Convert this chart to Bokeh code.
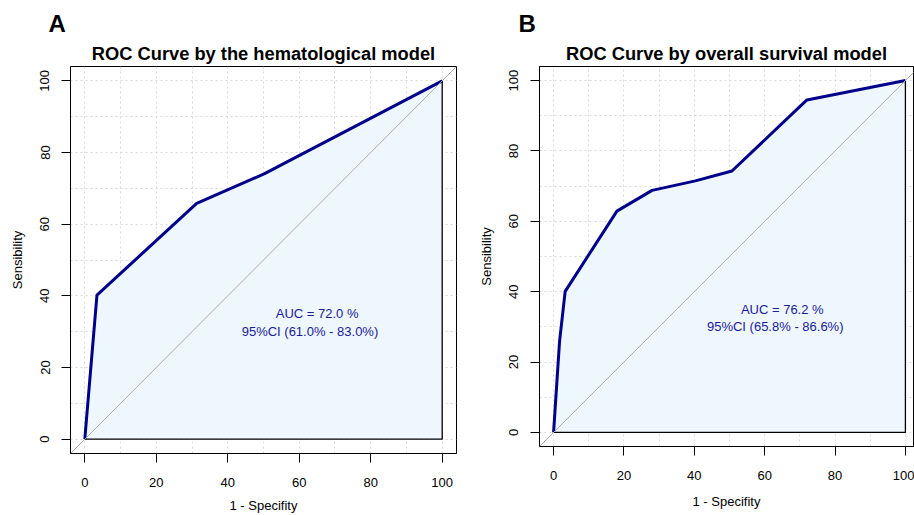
from bokeh.plotting import figure
from bokeh.models import Range1d, Slope, Title, FixedTicker
from bokeh.layouts import row, column
from bokeh.core.properties import value
from bokeh.embed import file_html
from bokeh.resources import INLINE

# ---- data ----
panel_letters = ["A", "B"]
titles = ["ROC Curve by the hematological model", "ROC Curve by overall survival model"]

# panel A: 1 - specificity (%) and sensitivity (%)
fpr_a = [0, 3.4, 31.3, 50.3, 100]
tpr_a = [0, 40.2, 65.8, 74.1, 100]
auc_text_a = ["AUC = 72.0 %", "95%CI (61.0% - 83.0%)"]

# panel B
fpr_b = [0, 1.7, 3.3, 18.0, 28.0, 40.3, 50.7, 72.0, 100]
tpr_b = [0, 25.9, 40.1, 62.9, 68.8, 71.5, 74.3, 94.5, 100]
auc_text_b = ["AUC = 76.2 %", "95%CI (65.8% - 86.6%)"]

auc_text_x = [65, 63]
auc_text_y = [35, 30]

axis_ticks = [0, 20, 40, 60, 80, 100]
grid_ticks = [0, 10, 20, 30, 40, 50, 60, 70, 80, 90, 100]

FONT = "Liberation Sans"
CURVE = "#00008B"
FILL = "#EEF6FE"


def make_panel(letter, title, fpr, tpr, auc_lines, width, height, mb_left, mb_right,
               mb_top, mb_bottom, x_end, letter_offset, x_lbl_standoff, x_axlbl_standoff):
    p = figure(width=width, height=height, output_backend="svg", toolbar_location=None,
               x_range=Range1d(-4, x_end), y_range=Range1d(-4, 104),
               min_border_left=mb_left, min_border_right=mb_right,
               min_border_top=mb_top, min_border_bottom=mb_bottom,
               background_fill_color="white", border_fill_color="white")
    p.title = None
    p.add_layout(Title(text=title, align="center", text_font=FONT, text_font_size="18.3px",
                       text_font_style="bold", text_color="black", standoff=4.5), "above")
    p.add_layout(Title(text=letter, align="left", offset=letter_offset, text_font=FONT,
                       text_font_size="24px", text_font_style="bold", text_color="black",
                       standoff=4), "above")

    p.outline_line_color = "black"
    p.outline_line_width = 1
    p.outline_line_alpha = 1

    for g in (p.xgrid, p.ygrid):
        g.ticker = FixedTicker(ticks=grid_ticks)
        g.grid_line_color = "#D9D9D9"
        g.grid_line_dash = "2 3"
        g.grid_line_width = 1

    for ax in (p.xaxis, p.yaxis):
        ax.ticker = FixedTicker(ticks=axis_ticks)
        ax.minor_tick_line_color = None
        ax.major_tick_in = 0
        ax.major_tick_out = 9
        ax.major_tick_line_color = "black"
        ax.axis_line_color = "black"
        ax.major_label_text_font = FONT
        ax.major_label_text_font_size = "13px"
        ax.major_label_text_color = "black"
        ax.axis_label_text_font = FONT
        ax.axis_label_text_font_size = "13px"
        ax.axis_label_text_font_style = "normal"
        ax.axis_label_text_color = "black"
    p.xaxis.major_label_standoff = x_lbl_standoff
    p.xaxis.axis_label_standoff = x_axlbl_standoff
    p.yaxis.major_label_standoff = 12
    p.yaxis.axis_label_standoff = 13
    p.xaxis.axis_label = "1 - Specifity"
    p.yaxis.axis_label = "Sensibility"
    p.yaxis.major_label_orientation = "vertical"

    fill_x = list(fpr) + [fpr[-1]]
    fill_y = list(tpr) + [tpr[0]]
    p.patch(x=fill_x, y=fill_y, fill_color=FILL, line_color="black", line_width=1.3)

    p.add_layout(Slope(gradient=1, y_intercept=0, line_color="#AAAAAA", line_width=1))

    p.line(x=fpr, y=tpr, line_color=CURVE, line_width=3, line_join="round")

    p.text(x=auc_text_x, y=auc_text_y, text=auc_lines, text_font=value(FONT),
           text_font_size=value("13px"), text_color="#1a1a9a",
           text_align="center", text_baseline="middle")
    return p


pa = make_panel(panel_letters[0], titles[0], fpr_a, tpr_a, auc_text_a,
                width=470, height=515, mb_left=70, mb_right=14, mb_top=66, mb_bottom=62,
                x_end=104, letter_offset=-22, x_lbl_standoff=15, x_axlbl_standoff=8)
pb = make_panel(panel_letters[1], titles[1], fpr_b, tpr_b, auc_text_b,
                width=444, height=515, mb_left=69, mb_right=1, mb_top=66, mb_bottom=69,
                x_end=102.3, letter_offset=-21, x_lbl_standoff=15, x_axlbl_standoff=11)

layout = row(column(pa), column(pb))
open("out.html", "w").write(file_html(layout, INLINE))
